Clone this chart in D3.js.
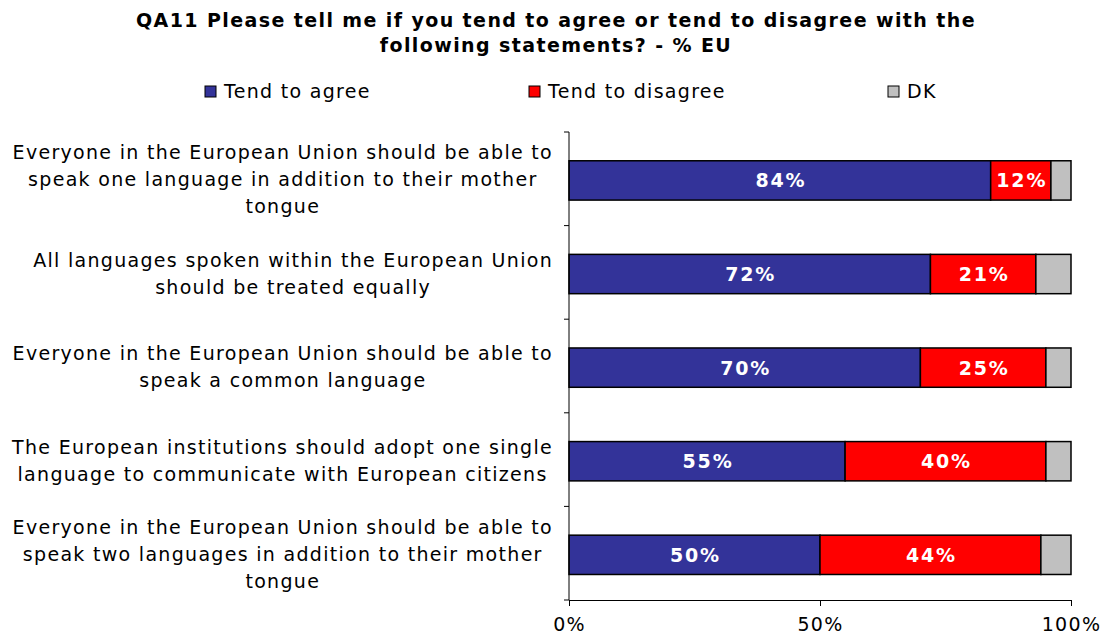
<!DOCTYPE html>
<html>
<head>
<meta charset="utf-8">
<script src="https://cdn.jsdelivr.net/npm/d3@7"></script>
<style>
  body { margin: 0; background: #fff; }
  text { font-family: "DejaVu Sans", Verdana, sans-serif; }
</style>
</head>
<body>
<div id="chart"></div>
<script>
var svgWidth = 1109;
var svgHeight = 637;

// data
var statements = [
  ["Everyone in the European Union should be able to", "speak one language in addition to their mother", "tongue"],
  ["All languages spoken within the European Union", "should be treated equally"],
  ["Everyone in the European Union should be able to", "speak a common language"],
  ["The European institutions should adopt one single", "language to communicate with European citizens"],
  ["Everyone in the European Union should be able to", "speak two languages in addition to their mother", "tongue"]
];
var agree = [84, 72, 70, 55, 50];
var disagree = [12, 21, 25, 40, 44];
var dk = [4, 7, 5, 5, 6];
var seriesNames = ["Tend to agree", "Tend to disagree", "DK"];
var seriesColors = ["#333399", "#ff0000", "#c0c0c0"];
var xTicks = [0, 50, 100];

var margin = { top: 132, left: 569, right: 38, bottom: 37 };
var width = svgWidth - margin.left - margin.right;
var height = svgHeight - margin.top - margin.bottom;

var svg = d3.select("#chart").append("svg")
  .attr("width", svgWidth)
  .attr("height", svgHeight);

// title
var title = svg.append("text")
  .attr("text-anchor", "middle")
  .attr("font-size", 19)
  .attr("font-weight", "bold")
  .attr("letter-spacing", 1.4)
  .attr("fill", "#000");
title.append("tspan").attr("x", 556).attr("y", 27).text("QA11 Please tell me if you tend to agree or tend to disagree with the");
title.append("tspan").attr("x", 556).attr("y", 52).text("following statements? - % EU");

// legend
var legendX = [205, 529, 888];
var legend = svg.append("g");
seriesNames.forEach(function (name, i) {
  legend.append("rect")
    .attr("x", legendX[i]).attr("y", 86)
    .attr("width", 11).attr("height", 11)
    .attr("fill", seriesColors[i])
    .attr("stroke", "#000").attr("stroke-width", 1);
  legend.append("text")
    .attr("x", legendX[i] + 19).attr("y", 98)
    .attr("font-size", 19)
    .attr("letter-spacing", 1.3)
    .text(name);
});

var chartGroup = svg.append("g")
  .attr("transform", `translate(${margin.left}, ${margin.top})`);

var xScale = d3.scaleLinear().domain([0, 100]).range([0, width]);
var yScale = d3.scaleBand()
  .domain(d3.range(statements.length))
  .range([0, height])
  .paddingInner(0.58)
  .paddingOuter(0.29)
  .align(0.53);

// stacked data
var rows = agree.map(function (a, i) { return { i: i, vals: [a, disagree[i], dk[i]] }; });
var segments = [];
rows.forEach(function (r) {
  var x0 = 0;
  r.vals.forEach(function (v, k) {
    segments.push({ row: r.i, k: k, x0: x0, x1: x0 + v, v: v });
    x0 += v;
  });
});

chartGroup.selectAll("rect.seg")
  .data(segments)
  .enter()
  .append("rect")
  .attr("class", "seg")
  .attr("x", d => xScale(d.x0))
  .attr("y", d => yScale(d.row))
  .attr("width", d => xScale(d.x1) - xScale(d.x0))
  .attr("height", yScale.bandwidth())
  .attr("fill", d => seriesColors[d.k])
  .attr("stroke", "#000")
  .attr("stroke-width", 1.5);

// value labels (no label on DK)
chartGroup.selectAll("text.val")
  .data(segments.filter(d => d.k < 2))
  .enter()
  .append("text")
  .attr("class", "val")
  .attr("x", d => xScale((d.x0 + d.x1) / 2) + 1)
  .attr("y", d => yScale(d.row) + yScale.bandwidth() / 2 + 7)
  .attr("text-anchor", "middle")
  .attr("font-size", 19)
  .attr("font-weight", "bold")
  .attr("letter-spacing", 1.8)
  .attr("fill", "#fff")
  .text(d => d.v + "%");

// y axis line with ticks at band edges
chartGroup.append("line")
  .attr("x1", 0).attr("x2", 0)
  .attr("y1", 0).attr("y2", height)
  .attr("stroke", "#000");
chartGroup.selectAll("line.ytick")
  .data(d3.range(statements.length + 1))
  .enter()
  .append("line")
  .attr("class", "ytick")
  .attr("x1", -5).attr("x2", 0)
  .attr("y1", d => d * yScale.step())
  .attr("y2", d => d * yScale.step())
  .attr("stroke", "#000");

// category labels: block right-aligned, lines centered inside block
var lineH = 27;
statements.forEach(function (lines, i) {
  var g = chartGroup.append("g");
  var t = g.append("text").attr("font-size", 19).attr("letter-spacing", 1.3)
    .attr("text-anchor", "middle").attr("fill", "#000");
  var cy = yScale(i) + yScale.bandwidth() / 2 - 1;
  var spans = lines.map(function (ln, j) {
    return t.append("tspan")
      .attr("y", cy + (j - (lines.length - 1) / 2) * lineH + 7)
      .text(ln);
  });
  var maxW = d3.max(spans, s => s.node().getComputedTextLength());
  spans.forEach(s => s.attr("x", -16 - maxW / 2));
});

// x axis
var xAxis = chartGroup.append("g")
  .attr("transform", `translate(0, ${height})`)
  .call(d3.axisBottom(xScale).tickValues(xTicks).tickFormat(d => d + "%").tickSize(6).tickPadding(12));
xAxis.select(".domain").attr("stroke", "#000");
xAxis.selectAll(".tick line").attr("stroke", "#000");
xAxis.selectAll("text")
  .attr("font-size", 19)
  .attr("letter-spacing", 1.3)
  .attr("font-family", "DejaVu Sans, Verdana, sans-serif")
  .attr("fill", "#000");
</script>
</body>
</html>
